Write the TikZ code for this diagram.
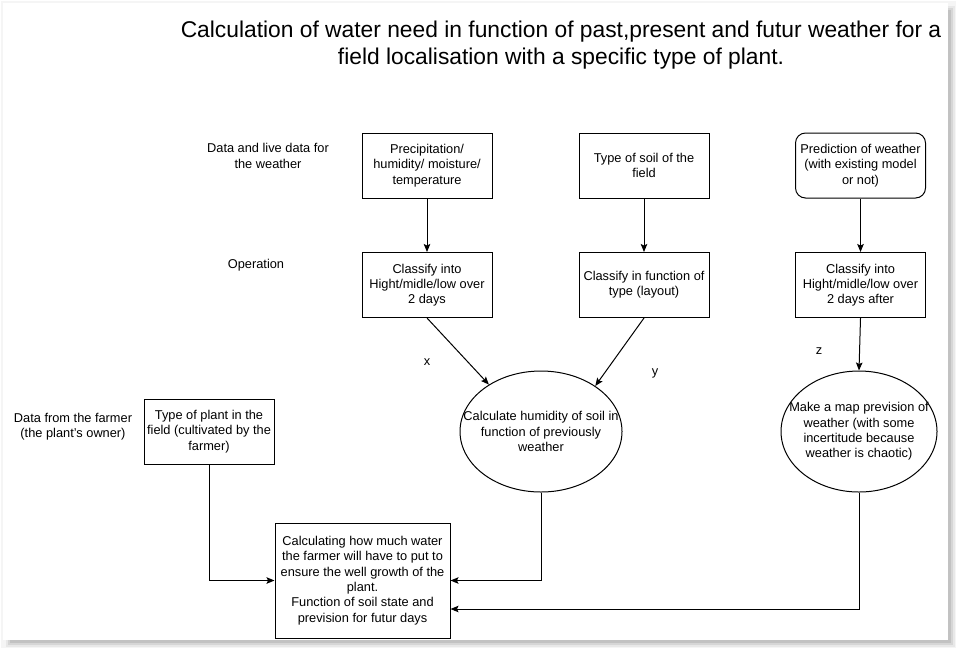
\documentclass[tikz,border=0pt]{standalone}
\usepackage{fontspec}
\setmainfont{Liberation Sans}
\usetikzlibrary{shapes.geometric,arrows.meta,calc}
\newcommand{\bodyfont}{\fontsize{12.8}{15.3}\selectfont}
\tikzset{
  box/.style={draw,line width=1pt,minimum width=130pt,minimum height=65pt,inner sep=0pt,align=center,font=\bodyfont},
  rbox/.style={box,rounded corners=10pt},
  oval/.style={draw,ellipse,line width=1pt,inner sep=0pt},
  lbl/.style={align=center,inner sep=0pt,font=\bodyfont},
  conn/.style={line width=1pt,-{Stealth[length=8pt,width=6.5pt,inset=1.5pt]}},
}
\begin{document}
\begin{tikzpicture}[x=1pt,y=-1pt]
\useasboundingbox (0,0) rectangle (957,649);
% page shadow
\fill[black!4] (1,1) rectangle (956,648);
\fill[black!9] (6,6) rectangle (955,647);
\fill[black!16] (8,8) rectangle (953,645);
\fill[black!24] (10,10) rectangle (951,643);
\fill[white] (3,3) rectangle (948,640);
% title
\node[align=center,inner sep=0pt,font=\fontsize{22.8}{27}\selectfont] (title) at (561,45)
  {Calculation of water need in function of past,present and futur weather for a\\field localisation with a specific type of plant.};
% side labels
\node[lbl] (ldata) at (268,156) {Data and live data for\\the weather};
\node[lbl] (lop) at (256,265) {Operation};
\node[lbl] (lfarm) at (73,427) {Data from the farmer\\(the plant's owner)};
% boxes
\node[box] (b1) at (427,165.5) {Precipitation/\\humidity/ moisture/\\temperature};
\node[box] (b2) at (644,165.5) {Type of soil of the\\field};
\node[rbox] (b3) at (860.5,165.5) {Prediction of weather\\(with existing model\\or not)};
\node[box] (b4) at (427,285) {Classify into\\Hight/midle/low over\\2 days};
\node[box] (b5) at (644,285) {Classify in function of\\type (layout)};
\node[box] (b6) at (860.5,285) {Classify into\\Hight/midle/low over\\2 days after};
\node[box] (b7) at (209,431.5) {Type of plant in the\\field (cultivated by the\\farmer)};
\node[box,minimum width=175pt,minimum height=115pt] (b8) at (362.5,580.5)
  {Calculating how much water\\the farmer will have to put to\\ensure the well growth of the\\plant.\\Function of soil state and\\prevision for futur days};
\node[oval,minimum width=162pt,minimum height=121pt,
  label={[lbl,name=e1t]center:Calculate humidity of soil in\\function of previously\\weather}] (e1) at (541,431.5) {};
\node[oval,minimum width=156pt,minimum height=121pt,
  label={[lbl,name=e2t]center:Make a map prevision of\\weather (with some\\incertitude because\\weather is chaotic)}] (e2) at (859,431.5) {};
% connector labels
\node[lbl] (lx) at (427,362) {x};
\node[lbl] (ly) at (655,373) {y};
\node[lbl] (lz) at (819,351) {z};
% connectors
\draw[conn] (b1) -- (b4);
\draw[conn] (b2) -- (b5);
\draw[conn] (b3) -- (b6);
\draw[conn] (b6.south) -- (e2.north);
\draw[conn] (b4.south) -- (e1.138);
\draw[conn] (b5.south) -- (e1.40);
\draw[conn] (b7.south) |- (b8.west);
\draw[conn] (e1.south) |- (b8.east);
\draw[conn] (e2.south) |- ([yshift=-28.5pt]b8.east);
\end{tikzpicture}
\end{document}
